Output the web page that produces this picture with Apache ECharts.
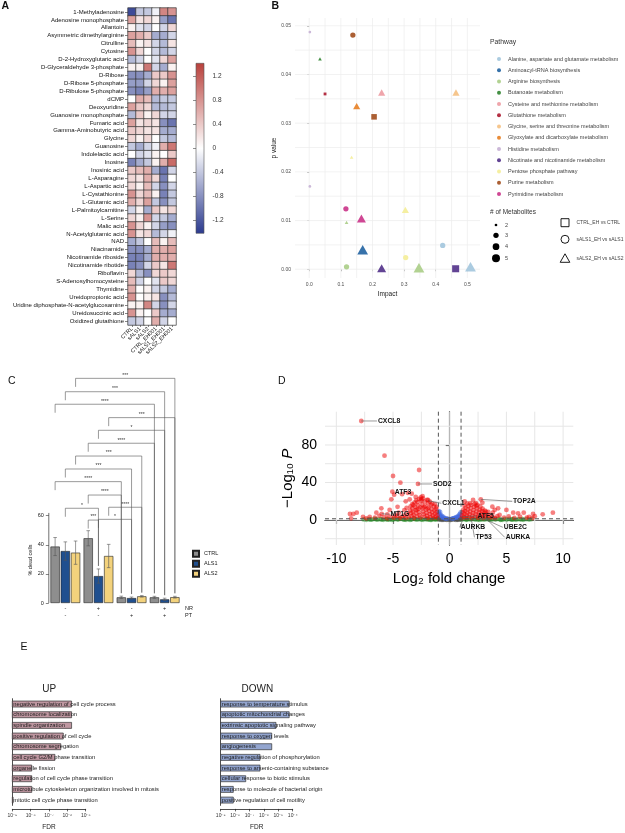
<!DOCTYPE html>
<html><head><meta charset="utf-8">
<script src="https://cdn.jsdelivr.net/npm/echarts@6/dist/echarts.min.js"></script>
<style>html,body{margin:0;padding:0;background:#fff}#c{width:625px;height:833px}</style>
</head><body><div id="c"></div>
<script>
// ================= DATA =================
// ---- Panel A: heatmap
const metabolites = ['1-Methyladenosine','Adenosine monophosphate','Allantoin','Asymmetric dimethylarginine','Citrulline','Cytosine','D-2-Hydroxyglutaric acid','D-Glyceraldehyde 3-phosphate','D-Ribose','D-Ribose 5-phosphate','D-Ribulose 5-phosphate','dCMP','Deoxyuridine','Guanosine monophosphate','Fumaric acid','Gamma-Aminobutyric acid','Glycine','Guanosine','Indolelactic acid','Inosine','Inosinic acid','L-Asparagine','L-Aspartic acid','L-Cystathionine','L-Glutamic acid','L-Palmitoylcarnitine','L-Serine','Malic acid','N-Acetylglutamic acid','NAD','Niacinamide','Nicotinamide riboside','Nicotinamide ribotide','Riboflavin','S-Adenosylhomocysteine','Thymidine','Ureidopropionic acid','Uridine diphosphate-N-acetylglucosamine','Ureidosuccinic acid','Oxidized glutathione'];
const sampleLabels = ['CTRL','sALS1','sALS2','CTRL_EH001','sALS1_EH001','sALS2_EH001'];
const heatValues = [
[-1.3,-0.4,-0.4,-0.1,0.9,0.8],[0.7,0.2,0.3,0.1,-0.7,-1.0],[0.1,-0.2,-0.3,0.0,-0.3,0.3],[0.7,0.6,0.4,-0.6,-0.6,-0.3],
[0.5,0.1,0.2,-0.3,-0.5,0.2],[0.8,0.3,0.0,-0.3,-0.5,-0.3],[-0.5,-0.3,0.0,-0.2,0.3,0.7],[0.1,0.1,1.0,-0.3,-0.6,0.1],
[-0.8,-0.8,-0.6,0.4,0.4,0.8],[-0.7,-0.7,-0.3,0.3,0.1,0.7],[-0.8,-0.9,-0.7,0.6,0.6,0.7],[0.0,0.6,0.5,-0.5,-0.4,-0.4],
[0.7,0.4,0.3,-0.5,-0.5,-0.4],[-0.5,0.4,0.1,0.3,-0.3,-0.3],[0.7,0.2,0.3,0.2,-0.8,-1.0],[0.4,0.3,0.2,0.2,-0.6,-0.6],
[0.3,0.1,0.3,0.0,-0.4,-0.5],[-0.4,-0.6,-0.3,-0.1,0.6,1.0],[0.0,-0.3,-0.2,0.1,0.0,0.4],[-0.9,-0.6,-0.4,0.1,0.6,1.1],
[0.4,0.5,0.6,-0.6,-1.0,-0.3],[0.3,0.2,0.6,0.3,-0.9,0.0],[0.3,0.1,0.5,-0.3,-0.8,-0.3],[0.8,0.3,0.5,0.1,-0.9,-0.4],
[0.6,0.3,0.7,-0.4,-0.8,-0.4],[-0.3,0.1,-0.6,0.4,0.2,0.3],[0.3,0.1,0.8,-0.3,-0.4,-0.6],[0.8,0.3,0.1,-0.3,-0.7,-0.8],
[0.8,0.2,0.3,-0.5,-0.3,-0.1],[-0.6,-0.4,0.0,0.5,0.1,0.5],[-0.8,-0.8,-0.6,0.6,0.6,0.7],[-0.9,-0.9,-0.6,0.6,0.6,0.6],
[-0.9,-0.8,-0.3,0.4,0.2,1.0],[0.3,-0.5,-0.8,0.3,0.4,0.3],[0.5,-0.3,0.0,-0.2,0.4,0.3],[0.6,0.0,0.1,-0.3,-0.4,-0.6],
[0.8,0.0,0.1,0.2,-0.8,-0.5],[0.1,0.1,0.9,-0.3,-0.8,-0.3],[0.8,0.1,0.0,0.4,-0.6,-0.6],[-0.4,-0.3,0.0,0.6,-0.3,0.0]
];
const colorbarTicks = [-1.2,-0.8,-0.4,0,0.4,0.8,1.2];
const cbMin = -1.42, cbMax = 1.42;

// ---- Panel B: pathway impact
const pathways = ['Alanine, aspartate and glutamate metabolism','Aminoacyl-tRNA biosynthesis','Arginine biosynthesis','Butanoate metabolism','Cysteine and methionine metabolism','Glutathione metabolism','Glycine, serine and threonine metabolism','Glyoxylate and dicarboxylate metabolism','Histidine metabolism','Nicotinate and nicotinamide metabolism','Pentose phosphate pathway','Purine metabolism','Pyrimidine metabolism'];
const comparisons = ['CTRL_EH vs CTRL','sALS1_EH vs sALS1','sALS2_EH vs sALS2'];
const bImpact     = [0.002, 0.034, 0.05, 0.138, 0.229, 0.15, 0.205, 0.134, 0.002, 0.116, 0.118, 0.165, 0.304, 0.169, 0.305, 0.118, 0.229, 0.347, 0.422, 0.463, 0.51, 0.464];
const bPValue     = [0.0487,0.0432,0.036,0.0481,0.0363,0.0335,0.0313,0.023,0.017,0.0124,0.0096,0.0104,0.0122,0.004,0.0024,0.0005,0.0002,0.0003,0.0049,0.0001,0.0005,0.0363];
const bCount      = [2,2,2,3,3,3,3,2,2,3,2,4,3,5,3,3,4,5,3,4,5,3];
const bPathway    = [8,3,5,11,4,7,11,10,8,12,2,12,10,1,10,2,9,2,0,9,0,6];
const bComparison = [1,2,0,1,2,2,0,2,1,1,2,2,2,2,1,1,2,2,1,0,2,2];
const bXTicks = [0,0.1,0.2,0.3,0.4,0.5];
const bYTicks = [0,0.01,0.02,0.03,0.04,0.05];
const bXGrid = [0,0.05,0.1,0.15,0.2,0.25,0.3,0.35,0.4,0.45,0.5];
const bYGrid = [0,0.005,0.01,0.015,0.02,0.025,0.03,0.035,0.04,0.045,0.05];
const sizeLegendCounts = ['2','3','4','5'];

// ---- Panel C: % dead cells
const cGroups = ['NR-/PT-','NR+/PT-','NR-/PT+','NR+/PT+'];
const nrRow = ['-','+','-','+'];
const ptRow = ['-','-','+','+'];
const cNames = ['CTRL','ALS1','ALS2'];
const ctrlMean = [38.8, 44.5, 3.9, 3.9];
const ctrlSD   = [6.2, 5.2, 0.8, 0.7];
const als1Mean = [35.7, 18.5, 3.4, 2.5];
const als1SD   = [6.3, 4.9, 0.7, 0.8];
const als2Mean = [34.6, 32.3, 4.6, 4.0];
const als2SD   = [8.0, 8.0, 0.5, 0.6];
const cYTicks = [0,20,40,60];
// [fromGroup, fromSeries, toGroup, toSeries, bracketLevel]
const cBrackets = [[0,2,3,2,154.4],[0,1,3,1,145.2],[0,0,3,0,136.6],[1,2,3,2,127.4],[1,1,3,1,118.7],[1,0,3,0,109.8],[0,2,2,2,101.0],[0,1,2,1,92.1],[0,0,2,0,83.4],[1,0,2,0,74.2],[0,1,1,1,65.1],[1,2,2,2,65.8],[1,0,1,1,57.0],[1,1,2,1,57.5]];
const cBracketLabels = ['***','***','****','***','*','****','***','***','****','****','*','****','***','*'];

// ---- Panel D: volcano
const volcanoNS = [[-0.95,0.3],[-0.85,0.8],[-0.75,0.2],[-0.65,0.6],[-0.55,1.0],[-0.45,0.3],[-0.35,0.7],[-0.25,0.1],[-0.15,0.5],[-0.05,0.9],[0.05,0.2],[0.15,0.6],[0.25,1.1],[0.35,0.4],[0.45,0.8],[0.55,0.1],[0.65,0.5],[0.75,0.9],[0.85,0.3],[0.95,0.7],[-0.9,1.1],[-0.6,0.05],[-0.2,1.2],[0.1,0.02],[0.4,1.2],[0.7,0.15],[0.9,1.15]];
const volcanoFC = [[-7.6,0.6],[-7.35,0.2],[-7.1,0.9],[-6.85,0.4],[-6.6,1.1],[-6.35,0.3],[-6.1,0.8],[-5.85,0.2],[-5.6,1.0],[-5.35,0.5],[-5.1,0.1],[-4.85,0.9],[-4.6,0.4],[-4.35,1.2],[-4.1,0.6],[-3.85,0.2],[-3.6,0.9],[-3.35,0.4],[-3.1,1.1],[-2.85,0.3],[-2.6,0.8],[-2.35,0.15],[-2.1,1.0],[-1.85,0.5],[-1.6,0.2],[-1.4,0.9],[-1.2,0.4],[-1.05,1.1],[-2.0,0.6],[-3.0,0.7],[-4.0,0.3],[-5.0,0.7],[-6.0,0.5],[-7.0,0.3],[-1.3,0.7],[-1.7,0.05],[-2.5,0.5],[-3.5,0.1],[-4.5,0.8],[-5.5,0.3],[-6.5,0.7],
[1.05,0.5],[1.25,1.0],[1.45,0.2],[1.65,0.8],[1.85,0.4],[2.05,1.1],[2.25,0.3],[2.45,0.9],[2.65,0.1],[2.85,0.7],[3.05,0.35],[3.25,1.05],[3.45,0.5],[3.65,0.15],[3.85,0.9],[4.05,0.4],[4.25,1.15],[4.45,0.6],[4.65,0.2],[4.85,0.85],[5.05,0.45],[5.25,1.1],[5.45,0.3],[5.65,0.75],[5.85,0.2],[6.05,0.95],[6.25,0.5],[6.5,0.15],[6.75,0.8],[7.0,0.4],[7.2,0.9],[1.5,0.6],[2.5,0.55],[3.5,0.8],[4.5,0.05],[5.5,0.6],[6.4,1.0]];
const volcanoP = [[-0.98,9.5],[-0.95,7.8],[-0.92,6.2],[-0.9,4.8],[-0.85,8.5],[-0.82,3.8],[-0.78,5.5],[-0.72,3.0],[-0.68,4.2],[-0.6,2.5],[-0.55,3.3],[-0.48,2.0],[-0.4,1.7],[-0.32,1.5],[-0.22,1.4],[0.2,1.4],[0.3,1.6],[0.38,1.9],[0.46,2.3],[0.55,2.8],[0.62,3.4],[0.7,2.6],[0.74,4.2],[0.8,3.3],[0.84,5.3],[0.9,6.5],[0.94,4.5],[0.97,8.0]];
const volcanoSig = [[-7.8,105.6],[-5.75,68.6],[-5.0,46.9],[-4.35,39.8],[-2.7,53.3],[-2.8,38.4],[-5.06,30.2],[-5.15,22],[-4.9,27],[-4.2,27.5],[-3.7,29],[-3.35,28],[-3.88,19.9],[-3.53,22],[-2.5,22],[-1.91,21.3],[-6.03,12.4],[-6.47,7.8],[-5.3,10.7],[-4.5,7.8],[-8.8,6.4],[-8.5,6.4],[-8.2,7.8],[-8.7,1.8],[-7.65,3.2],[-7.36,1.8],[-7.06,3.2],[-6.6,2.5],[-6.2,4.4],[-5.8,3.0],[-5.5,6.0],[-4.8,5.0],[-4.0,10.5],[-4.6,14],[-3.3,17],[-6.0,6.6],
[1.32,19.9],[2.06,21.3],[2.74,22],[2.88,18.5],[2.35,15],[3.76,14.2],[3.97,10.7],[4.27,12.4],[5.0,10.7],[5.6,7.8],[6.03,7.1],[6.53,7.8],[7.35,6.4],[8.2,6.0],[9.1,7.8],[6.8,2.5],[7.0,3.2],[4.4,5.3],[3.2,8.9],[3.8,7.8],[7.5,4.0],[7.3,2.0],[6.2,3.5],[5.7,2.2],[5.2,3.8],[4.8,2.5],
[-1.05,2.0],[-1.1,5.0],[-1.15,8.5],[-1.2,12.0],[-1.25,3.5],[-1.3,6.8],[-1.35,10.2],[-1.4,14.5],[-1.45,2.2],[-1.5,4.8],[-1.55,8.0],[-1.6,11.5],[-1.65,16.0],[-1.7,3.0],[-1.75,6.2],[-1.8,9.5],[-1.85,13.5],[-1.9,18.0],[-1.95,2.0],[-2.0,4.5],[-2.05,7.5],[-2.1,11.0],[-2.15,15.0],[-2.2,19.5],[-2.25,3.2],[-2.3,6.0],[-2.35,9.0],[-2.4,12.5],[-2.45,16.5],[-2.5,20.5],[-2.55,24.0],[-2.6,2.4],[-2.65,5.2],[-2.7,8.2],[-2.75,11.8],[-2.8,15.5],[-2.85,19.0],[-2.9,3.8],[-2.95,7.0],[-3.0,10.5],[-3.05,14.0],[-3.1,18.5],[-3.15,2.0],[-3.2,5.5],[-3.25,9.0],[-3.3,12.5],[-3.35,4.0],[-3.4,7.5],[-3.5,10.0],[-3.6,3.0],[-3.7,6.5],[-3.8,13.0],[-3.9,2.2],[-4.0,5.0],[-4.2,3.5],[-4.4,2.0],[-4.6,4.0],[-4.9,2.5],[-5.2,3.2],[-5.5,1.8],[-2.35,23.0],[-2.0,21.5],[-1.75,19.5],[-2.7,22.5],[-2.95,21.0],[-3.2,16.0],[-1.55,17.5],[-2.25,13.8],[-1.95,12.2],[-2.6,13.5],[-2.9,11.0],[-3.45,14.5],[-1.3,17.0],[-1.15,14.0],[-3.0,24.5],[-2.4,25.5],
[1.05,2.0],[1.1,5.0],[1.15,8.0],[1.2,11.0],[1.25,3.2],[1.3,6.5],[1.35,9.5],[1.4,13.0],[1.45,2.2],[1.5,4.8],[1.55,7.8],[1.6,11.2],[1.65,15.0],[1.7,3.0],[1.75,6.0],[1.8,9.0],[1.85,12.5],[1.9,16.0],[1.95,2.0],[2.0,4.5],[2.05,7.5],[2.1,10.5],[2.15,14.0],[2.2,17.0],[2.25,3.2],[2.3,6.0],[2.35,9.0],[2.4,12.5],[2.45,16.2],[2.5,2.2],[2.55,5.0],[2.6,8.0],[2.65,11.0],[2.7,14.5],[2.75,3.5],[2.8,6.5],[2.85,9.5],[2.9,12.0],[2.95,2.0],[3.0,4.8],[3.05,7.5],[3.1,10.0],[3.2,3.0],[3.3,5.8],[3.4,8.5],[3.5,2.2],[3.6,4.5],[3.8,3.0],[4.0,2.0],[4.2,4.0],[1.8,17.8],[2.3,18.0],[1.55,17.5],[1.3,15.5]];
const volcanoLabelNames = ['CXCL8','SOD2','ATF3','CXCL1','TOP2A','MT1G','ATF5','AURKB','UBE2C','TP53','AURKA'];
// [pointX, pointY, labelX, labelY]
const volcanoLabelPos = [[-7.8,105.6,-6.33,105.6],[-2.8,38.4,-1.47,38.4],[-5.06,30.2,-4.85,29.5],[-1.9,20.5,-0.65,17.8],[2.74,22,5.59,19.9],[-6.0,6.6,-5.23,6.1],[1.1,3.5,2.44,4.3],[1.2,1.6,0.97,-7.8],[2.9,1.8,4.77,-7.8],[1.9,1.5,2.27,-18.5],[3.2,1.6,4.94,-18.5]];
const dXTicks = [-10,-5,0,5,10];
const dYTicks = [0,40,80];
const dXGrid = [-10,-7.5,-5,-2.5,0,2.5,5,7.5,10];
const dYGrid = [-20,0,20,40,60,80,100];
const dCutX = [-1,1];
const dCutY = [1.3];

// ---- Panel E: GO enrichment
const upTerms = ['negative regulation of cell cycle process','chromosome localization','spindle organization','positive regulation of cell cycle','chromosome segregation','cell cycle G2/M phase transition','organelle fission','regulation of cell cycle phase transition','microtubule cytoskeleton organization involved in mitosis','mitotic cell cycle phase transition'];
const upFDR = [1.7e-6,1.7e-6,1.7e-6,6.0e-7,4.4e-7,2.1e-7,1.15e-8,1.15e-8,1.15e-8,1.1e-9];
const downTerms = ['response to temperature stimulus','apoptotic mitochondrial changes','extrinsic apoptotic signaling pathway','response to oxygen levels','angiogenesis','negative regulation of phosphorylation','response to arsenic-containing substance','cellular response to biotic stimulus','response to molecule of bacterial origin','positive regulation of cell motility'];
const downFDR = [5.7e-5,5.7e-5,6.9e-6,3.5e-6,3.5e-6,5.4e-7,5.4e-7,5.5e-8,7.5e-9,7.5e-9];

// ================= STYLE =================
const FONT = 'Liberation Sans, Arial, Helvetica, sans-serif';
const loColor = '#2b3a8e', hiColor = '#b8403b';
const pathwayColors = ['#a6c8de','#2c6aa5','#aed08c','#3a8a3a','#eea0a6','#b0253a','#f5c387','#e8862e','#c8b4d6','#5a3a8e','#f4ee9c','#a65628','#cc3d8e'];
const shapeSymbols = ['rect','circle','triangle'];
const countDiam = {2:2.7,3:5.3,4:6.7,5:8};
function bSymbolSize(count, comp){
  const d = countDiam[count];
  if (comp === 2) return [d*1.35, d*1.2];
  if (comp === 0) return d*1.05;
  return d;
}
const cColors = ['#8e8e8e','#1f4f8f','#f3d27c'];
const barW = 9.3, barGapPx = 0.93;
const barOffset = s => (s - 1) * (barW + barGapPx);
const cMeans = [ctrlMean, als1Mean, als2Mean];
const cSDs = [ctrlSD, als1SD, als2SD];
const cAxisTop = 61.9;
const sup = {'-':'⁻','0':'⁰','1':'¹','2':'²','3':'³','4':'⁴','5':'⁵','6':'⁶','7':'⁷','8':'⁸','9':'⁹'};
const powLabel = v => '10' + String(Math.round(Math.log10(v))).split('').map(ch => sup[ch]).join('');

function txt(text, x, y, size, opts){
  opts = opts || {};
  return {type:'text', x:x, y:y, rotation: opts.rotation || 0, silent:true,
    style:{text:text, fontSize:size, fontFamily:FONT, fontWeight:opts.weight||'normal', fill:opts.color||'#111',
      align:opts.align||'left', verticalAlign:'middle'}};
}
function lineGridRender(color, width, dash){
  return function(params, api){
    const cs = params.coordSys;
    const v = api.value(0), dir = api.value(1);
    let shape;
    if (dir === 0){ const x = api.coord([v, 0])[0]; shape = {x1:x, y1:cs.y, x2:x, y2:cs.y+cs.height}; }
    else { const y = api.coord([0, v])[1]; shape = {x1:cs.x, y1:y, x2:cs.x+cs.width, y2:y}; }
    return {type:'line', shape:shape, style:{stroke:color, lineWidth:width, lineDash:dash||null}};
  };
}

// ================= SERIES =================
const series = [];
const heatData = [];
heatValues.forEach((row, r) => row.forEach((v, c) => heatData.push([c, r, v])));
series.push({type:'heatmap', xAxisIndex:0, yAxisIndex:0, data:heatData, itemStyle:{borderColor:'#333', borderWidth:0.7}, emphasis:{disabled:true}, silent:true});
series.push({type:'custom', xAxisIndex:1, yAxisIndex:1, data:[[0,0]], silent:true,
  renderItem:function(params, api){
    const tl = api.coord([0, cbMax]), br = api.coord([1, cbMin]);
    return {type:'rect', shape:{x:tl[0], y:tl[1], width:br[0]-tl[0], height:br[1]-tl[1]},
      style:{fill:new echarts.graphic.LinearGradient(0,0,0,1,[{offset:0,color:hiColor},{offset:0.5,color:'#ffffff'},{offset:1,color:loColor}]), stroke:'#555', lineWidth:0.6}};
  }});
series.push({type:'custom', xAxisIndex:2, yAxisIndex:2, z:1, silent:true,
  data: bXGrid.map(v => [v, 0]).concat(bYGrid.map(v => [v, 1])),
  renderItem: lineGridRender('#ececec', 0.7)});
pathways.forEach((pw, k) => {
  const idx = bImpact.map((_, i) => i).filter(i => bPathway[i] === k);
  series.push({type:'scatter', name:pw, xAxisIndex:2, yAxisIndex:2, z:3, silent:true,
    itemStyle:{color:pathwayColors[k], opacity:0.95},
    data: idx.map(i => ({value:[bImpact[i], bPValue[i], bCount[i]], symbol:shapeSymbols[bComparison[i]], symbolSize:bSymbolSize(bCount[i], bComparison[i])}))});
});
cNames.forEach((nm, s) => {
  series.push({type:'bar', name:nm, xAxisIndex:3, yAxisIndex:3, data:cMeans[s], barWidth:barW, barGap:'10%',
    itemStyle:{color:cColors[s], borderColor:'#222', borderWidth:0.6}, silent:true, z:2});
});
const errData = [];
cMeans.forEach((arr, s) => arr.forEach((m, g) => errData.push([g, m, cSDs[s][g], s])));
series.push({type:'custom', xAxisIndex:3, yAxisIndex:3, z:4, silent:true, data:errData,
  renderItem:function(params, api){
    const g = api.value(0), m = api.value(1), sd = api.value(2), s = api.value(3);
    const x = api.coord([g, m])[0] + barOffset(s);
    const yt = api.coord([g, m + sd])[1], yb = api.coord([g, Math.max(0, m - sd)])[1];
    const st = {stroke:'#555', lineWidth:0.6};
    return {type:'group', children:[
      {type:'line', shape:{x1:x, y1:yt, x2:x, y2:yb}, style:st},
      {type:'line', shape:{x1:x-1.8, y1:yt, x2:x+1.8, y2:yt}, style:st},
      {type:'line', shape:{x1:x-1.8, y1:yb, x2:x+1.8, y2:yb}, style:st}]};
  }});
series.push({type:'custom', xAxisIndex:3, yAxisIndex:3, z:4, silent:true, data:cBrackets.map(b => [b[0], b[4]]),
  renderItem:function(params, api){
    const b = cBrackets[params.dataIndex];
    const p1 = api.coord([b[0], b[4]]);
    const x1 = p1[0] + barOffset(b[1]), y = p1[1];
    const x2 = api.coord([b[2], b[4]])[0] + barOffset(b[3]);
    const tgt = cMeans[b[3]][b[2]] + cSDs[b[3]][b[2]];
    const y2 = api.coord([b[2], tgt])[1] - 3;
    return {type:'group', children:[
      {type:'polyline', shape:{points:[[x1, y+8.5],[x1, y],[x2, y],[x2, y2]]}, style:{stroke:'#555', lineWidth:0.6, fill:null}},
      {type:'text', x:(x1+x2)/2, y:y-0.6, style:{text:cBracketLabels[params.dataIndex], fontSize:5, fontFamily:FONT, fill:'#333', align:'center', verticalAlign:'bottom'}}]};
  }});
series.push({type:'custom', xAxisIndex:3, yAxisIndex:3, z:4, silent:true, data:[[0, cAxisTop]],
  renderItem:function(params, api){
    const cs = params.coordSys;
    const y0 = api.coord([0, 0])[1], y1 = api.coord([0, api.value(1)])[1];
    return {type:'line', shape:{x1:cs.x, y1:y0, x2:cs.x, y2:y1}, style:{stroke:'#333', lineWidth:0.7}};
  }});
series.push({type:'custom', xAxisIndex:4, yAxisIndex:4, z:1, silent:true,
  data: dXGrid.map(v => [v, 0]).concat(dYGrid.map(v => [v, 1])),
  renderItem: lineGridRender('#e6e6e6', 1)});
[[volcanoNS,'#4d4d4d','NS'],[volcanoFC,'#228b22','Log2 FC'],[volcanoP,'#4169e1','p-value'],[volcanoSig,'#ee0000','p-value and log2 FC']].forEach(d => {
  series.push({type:'scatter', name:d[2], xAxisIndex:4, yAxisIndex:4, z:3, silent:true, data:d[0], symbolSize:4.8,
    itemStyle:{color:d[1], opacity:0.5}});
});
series.push({type:'custom', xAxisIndex:4, yAxisIndex:4, z:5, silent:true,
  data: dCutX.map(v => [v, 0]).concat(dCutY.map(v => [v, 1])),
  renderItem: lineGridRender('#555', 1, [4, 3])});
series.push({type:'custom', xAxisIndex:4, yAxisIndex:4, z:6, silent:true, data:volcanoLabelPos,
  renderItem:function(params, api){
    const p = api.coord([api.value(0), api.value(1)]);
    const l = api.coord([api.value(2), api.value(3)]);
    const ch = [];
    if (Math.hypot(l[0]-p[0], l[1]-p[1]) > 4) ch.push({type:'line', shape:{x1:p[0], y1:p[1], x2:l[0]-1, y2:l[1]}, style:{stroke:'#555', lineWidth:0.6}});
    ch.push({type:'text', x:l[0], y:l[1], style:{text:volcanoLabelNames[params.dataIndex], fontSize:6.8, fontWeight:'bold', fontFamily:FONT, fill:'#111', align:'left', verticalAlign:'middle'}});
    return {type:'group', children:ch};
  }});
function goRender(terms, fill, minV){
  return function(params, api){
    const i = api.value(1);
    const s = api.coord([minV, i]), e = api.coord([api.value(0), i]);
    return {type:'group', children:[
      {type:'rect', shape:{x:s[0], y:s[1]-3, width:Math.max(0.8, e[0]-s[0]), height:6}, style:{fill:fill, stroke:'#333', lineWidth:0.7}},
      {type:'text', x:s[0]+1, y:s[1], style:{text:terms[i], fontSize:5.8, fontFamily:FONT, fill:'#1a1a1a', align:'left', verticalAlign:'middle'}}]};
  };
}
series.push({type:'custom', xAxisIndex:5, yAxisIndex:5, silent:true, data:upFDR.map((f, i) => [f, i]), renderItem:goRender(upTerms, '#bf97a1', 1e-9)});
series.push({type:'custom', xAxisIndex:6, yAxisIndex:6, silent:true, data:downFDR.map((f, i) => [f, i]), renderItem:goRender(downTerms, '#93a5cf', 1e-9)});

// ================= OPTION =================
const option = {
  animation:false,
  backgroundColor:'#ffffff',
  textStyle:{fontFamily:FONT},
  grid:[
    {left:128, top:8, width:48, height:317},
    {left:196, top:63.3, width:8, height:170},
    {left:295, top:18, width:185, height:260},
    {left:48.8, top:370.2, width:132.4, height:232.8},
    {left:325, top:411.7, width:248.3, height:133.3},
    {left:12.3, top:698.7, width:73.4, height:106.7},
    {left:220.7, top:698.7, width:72, height:106.7}
  ],
  visualMap:{show:false, type:'continuous', min:cbMin, max:cbMax, seriesIndex:0, inRange:{color:[loColor,'#ffffff',hiColor]}},
  legend:[
    {data:pathways, orient:'vertical', left:492, top:51, icon:'circle', itemWidth:8, itemHeight:4, itemGap:5.25, selectedMode:false,
      textStyle:{fontSize:5.5, color:'#444', lineHeight:6, fontFamily:FONT}},
    {data:cNames, orient:'vertical', left:187, top:544.7, icon:'rect', itemWidth:6, itemHeight:6, itemGap:2, selectedMode:false,
      textStyle:{fontSize:5.5, color:'#222', lineHeight:6, fontFamily:FONT}}
  ],
  xAxis:[
    {gridIndex:0, type:'category', data:sampleLabels, position:'bottom', axisLine:{show:false},
      axisTick:{show:true, length:2, alignWithLabel:true, lineStyle:{color:'#333', width:0.6}},
      axisLabel:{rotate:45, interval:0, fontSize:5.5, color:'#111', margin:3}, splitLine:{show:false}},
    {gridIndex:1, type:'value', min:0, max:1, show:false},
    {gridIndex:2, type:'value', min:-0.045, max:0.54, axisLine:{show:false},
      axisTick:{show:true, customValues:bXTicks, length:2, lineStyle:{color:'#777', width:0.6}},
      axisLabel:{customValues:bXTicks, formatter:v => v.toFixed(1), fontSize:5, color:'#4d4d4d', margin:4},
      splitLine:{show:false}, name:'Impact', nameLocation:'middle', nameGap:13, nameTextStyle:{fontSize:6.5, color:'#222', fontFamily:FONT}},
    {gridIndex:3, type:'category', data:cGroups, axisLine:{show:false}, axisTick:{show:false},
      axisLabel:{interval:0, formatter:(v, i) => nrRow[i] + '\n' + ptRow[i], fontSize:5.5, lineHeight:6.7, margin:2, color:'#222'}},
    {gridIndex:4, type:'value', min:-11, max:10.9, axisLine:{show:true, lineStyle:{color:'#000', width:1.1}},
      axisTick:{show:true, customValues:dXTicks, length:4, lineStyle:{color:'#000', width:1.1}},
      axisLabel:{customValues:dXTicks, fontSize:14, color:'#000', margin:7}, splitLine:{show:false},
      name:'Log₂ fold change', nameLocation:'middle', nameGap:26, nameTextStyle:{fontSize:15, color:'#000', fontFamily:FONT}},
    {gridIndex:5, type:'log', logBase:10, min:1e-9, max:1e-5, offset:3.5,
      axisLine:{show:true, lineStyle:{color:'#222', width:0.8}}, axisTick:{show:true, length:2.5, lineStyle:{color:'#222', width:0.7}},
      axisLabel:{formatter:powLabel, fontSize:5, color:'#333', margin:4}, splitLine:{show:false}, minorTick:{show:false},
      name:'FDR', nameLocation:'middle', nameGap:15, nameTextStyle:{fontSize:6.5, color:'#222', fontFamily:FONT}},
    {gridIndex:6, type:'log', logBase:10, min:1e-9, max:1e-4, offset:3.5,
      axisLine:{show:true, lineStyle:{color:'#222', width:0.8}}, axisTick:{show:true, length:2.5, lineStyle:{color:'#222', width:0.7}},
      axisLabel:{formatter:powLabel, fontSize:5, color:'#333', margin:4}, splitLine:{show:false}, minorTick:{show:false},
      name:'FDR', nameLocation:'middle', nameGap:15, nameTextStyle:{fontSize:6.5, color:'#222', fontFamily:FONT}}
  ],
  yAxis:[
    {gridIndex:0, type:'category', data:metabolites, inverse:true, axisLine:{show:false},
      axisTick:{show:true, length:3, alignWithLabel:true, lineStyle:{color:'#333', width:0.6}},
      axisLabel:{interval:0, fontSize:6, color:'#111', margin:4}},
    {gridIndex:1, type:'value', min:cbMin, max:cbMax, axisLine:{show:false},
      axisTick:{show:true, customValues:colorbarTicks, length:3, inside:false, lineStyle:{color:'#444', width:0.6}},
      axisLabel:{inside:true, customValues:colorbarTicks, margin:16.5, fontSize:6.5, color:'#333'}, splitLine:{show:false}},
    {gridIndex:2, type:'value', min:-0.0018, max:0.0516, axisLine:{show:false},
      axisTick:{show:true, customValues:bYTicks, length:2, lineStyle:{color:'#777', width:0.6}},
      axisLabel:{customValues:bYTicks, formatter:v => v.toFixed(2), fontSize:5, color:'#4d4d4d', margin:4},
      splitLine:{show:false}, name:'p value', nameLocation:'middle', nameRotate:90, nameGap:8, nameTextStyle:{fontSize:6.5, color:'#222', fontFamily:FONT}},
    {gridIndex:3, type:'value', min:0, max:160, axisLine:{show:false},
      axisTick:{show:true, customValues:cYTicks, length:3, lineStyle:{color:'#333', width:0.6}},
      axisLabel:{customValues:cYTicks, fontSize:5.5, color:'#222', margin:5}, splitLine:{show:false}},
    {gridIndex:4, type:'value', min:-26.7, max:115.5, axisLine:{show:true, lineStyle:{color:'#000', width:1.1}},
      axisTick:{show:true, customValues:dYTicks, length:4, lineStyle:{color:'#000', width:1.1}},
      axisLabel:{customValues:dYTicks, fontSize:14, color:'#000', margin:8}, splitLine:{show:false},
      name:'−Log₁₀ {i|P}', nameLocation:'middle', nameRotate:90, nameGap:30,
      nameTextStyle:{fontSize:15, color:'#000', fontFamily:FONT, rich:{i:{fontStyle:'italic', fontSize:15, color:'#000', fontFamily:FONT}}}},
    {gridIndex:5, type:'category', data:upTerms, inverse:true, axisLine:{show:true, lineStyle:{color:'#222', width:0.8}}, axisTick:{show:false}, axisLabel:{show:false}},
    {gridIndex:6, type:'category', data:downTerms, inverse:true, axisLine:{show:true, lineStyle:{color:'#222', width:0.8}}, axisTick:{show:false}, axisLabel:{show:false}}
  ],
  series:series,
  graphic:[
    txt('A', 1.5, 5.8, 10.5, {weight:'bold'}),
    txt('B', 271.5, 6.5, 10.5, {weight:'bold'}),
    txt('C', 8, 381, 10.5),
    txt('D', 278, 381, 10.5),
    txt('E', 20.5, 647.5, 10.5),
    txt('Pathway', 490, 41.7, 6.8, {color:'#333'}),
    txt('# of Metabolites', 490, 212.3, 6.5, {color:'#333'}),
    {type:'circle', silent:true, shape:{cx:496, cy:225, r:1.35}, style:{fill:'#000'}},
    {type:'circle', silent:true, shape:{cx:496, cy:235.3, r:2.65}, style:{fill:'#000'}},
    {type:'circle', silent:true, shape:{cx:496, cy:246.7, r:3.35}, style:{fill:'#000'}},
    {type:'circle', silent:true, shape:{cx:496, cy:258.3, r:4}, style:{fill:'#000'}},
    txt(sizeLegendCounts[0], 505, 225, 5.5, {color:'#444'}),
    txt(sizeLegendCounts[1], 505, 235.3, 5.5, {color:'#444'}),
    txt(sizeLegendCounts[2], 505, 246.7, 5.5, {color:'#444'}),
    txt(sizeLegendCounts[3], 505, 258.3, 5.5, {color:'#444'}),
    {type:'rect', silent:true, shape:{x:561, y:218.7, width:8, height:8}, style:{fill:'none', stroke:'#000', lineWidth:0.9}},
    {type:'circle', silent:true, shape:{cx:565, cy:239.3, r:4}, style:{fill:'none', stroke:'#000', lineWidth:0.9}},
    {type:'polygon', silent:true, shape:{points:[[565,253.8],[569.8,262.3],[560.2,262.3]]}, style:{fill:'none', stroke:'#000', lineWidth:0.9}},
    txt(comparisons[0], 576.5, 222.7, 5, {color:'#444'}),
    txt(comparisons[1], 576.5, 239.3, 5, {color:'#444'}),
    txt(comparisons[2], 576.5, 258.3, 5, {color:'#444'}),
    txt('% dead cells', 30.7, 560, 5.5, {rotation:Math.PI/2, align:'center', color:'#222'}),
    txt('NR', 185, 608.3, 5.5, {color:'#222'}),
    txt('PT', 185, 615, 5.5, {color:'#222'}),
    txt('UP', 49.3, 689.3, 10, {align:'center', color:'#222'}),
    txt('DOWN', 257.3, 689.3, 10, {align:'center', color:'#222'})
  ]
};
const chart = echarts.init(document.getElementById('c'), null, {renderer:'canvas'});
chart.setOption(option);
</script>
</body></html>
